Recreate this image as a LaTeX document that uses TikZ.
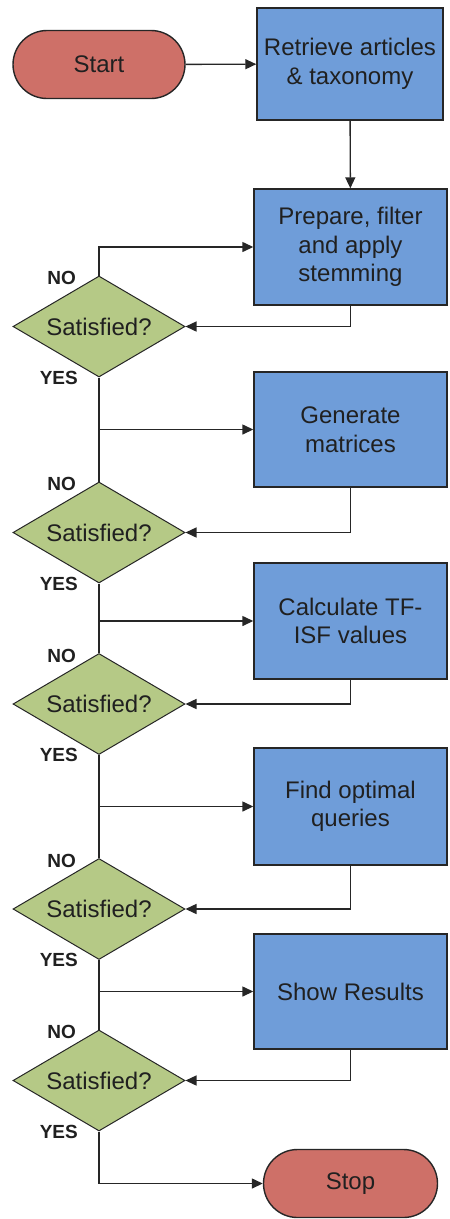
\documentclass[tikz,border=0pt]{standalone}
\usepackage{fontspec}
\setmainfont{Liberation Sans}
\usetikzlibrary{shapes.geometric,arrows.meta}
\definecolor{termred}{RGB}{206,112,104}
\definecolor{procblue}{RGB}{111,157,217}
\definecolor{decgreen}{RGB}{181,201,134}
\definecolor{txt}{RGB}{32,32,32}
\tikzset{
  base/.style={draw=black!85, line width=1.4pt, text=txt, inner sep=0pt,
    font=\fontsize{24}{28.5}\selectfont, align=center},
  term/.style={base, fill=termred, rectangle, rounded corners=34pt, minimum height=68pt},
  proc/.style={base, fill=procblue, rectangle, minimum width=193pt},
  dec/.style={base, fill=decgreen, diamond, aspect=1.7, minimum width=172pt, minimum height=101pt, line width=1pt},
  lab/.style={inner sep=0pt, text height=13.5pt, text depth=0pt, font=\fontsize{19}{19}\selectfont\bfseries, text=txt, anchor=east},
  conn/.style={line width=1.4pt, draw=black!85},
  arr/.style={conn, -{Triangle[length=11pt,width=10pt]}},
}
\begin{document}
\begin{tikzpicture}[x=1pt,y=-1pt]
\useasboundingbox (0,0) rectangle (450,1219);
% terminals
\node[term, minimum width=172pt] (start) at (99,64.5) {Start};
\node[term, minimum width=174pt] (stop) at (350.5,1183.5) {Stop};
% process boxes
\node[proc, minimum width=186pt, minimum height=112pt] (retr) at (350,64) {Retrieve articles\\\& taxonomy};
\node[proc, minimum height=116pt] (prep) at (350.5,247) {Prepare, filter\\and apply\\stemming};
\node[proc, minimum height=115pt] (gen) at (350.5,429.5) {Generate\\matrices};
\node[proc, minimum height=116pt] (calc) at (350.5,621) {Calculate TF-\\ISF values};
\node[proc, minimum height=117pt] (find) at (350.5,806.5) {Find optimal\\queries};
\node[proc, minimum height=115pt] (show) at (350.5,991.5) {Show Results};
% decisions
\node[dec] (d1) at (99,326.5) {Satisfied?};
\node[dec] (d2) at (99,532.5) {Satisfied?};
\node[dec] (d3) at (99,704) {Satisfied?};
\node[dec] (d4) at (99,909) {Satisfied?};
\node[dec] (d5) at (99,1080.5) {Satisfied?};
% labels
\foreach \d in {d1,d2,d3,d4,d5}{
  \node[lab] (no\d) at ([xshift=-23pt,yshift=-2.5pt]\d.north) {NO};
  \node[lab] (yes\d) at ([xshift=-21pt]\d.south) {YES};
}
% connectors
\draw[arr] (start) -- (retr);
\draw[arr] (retr) -- (prep);
\draw[arr] (d1.north) |- (prep.west);
\draw[arr] (prep.south) |- (d1.east);
\draw[conn] (d1.south) -- (d2.north);
\draw[arr] (d1.south |- gen.west) -- (gen.west);
\draw[arr] (gen.south) |- (d2.east);
\draw[conn] (d2.south) -- (d3.north);
\draw[arr] (d2.south |- calc.west) -- (calc.west);
\draw[arr] (calc.south) |- (d3.east);
\draw[conn] (d3.south) -- (d4.north);
\draw[arr] (d3.south |- find.west) -- (find.west);
\draw[arr] (find.south) |- (d4.east);
\draw[conn] (d4.south) -- (d5.north);
\draw[arr] (d4.south |- show.west) -- (show.west);
\draw[arr] (show.south) |- (d5.east);
\draw[arr] (d5.south) |- (stop.west);
\end{tikzpicture}
\end{document}
